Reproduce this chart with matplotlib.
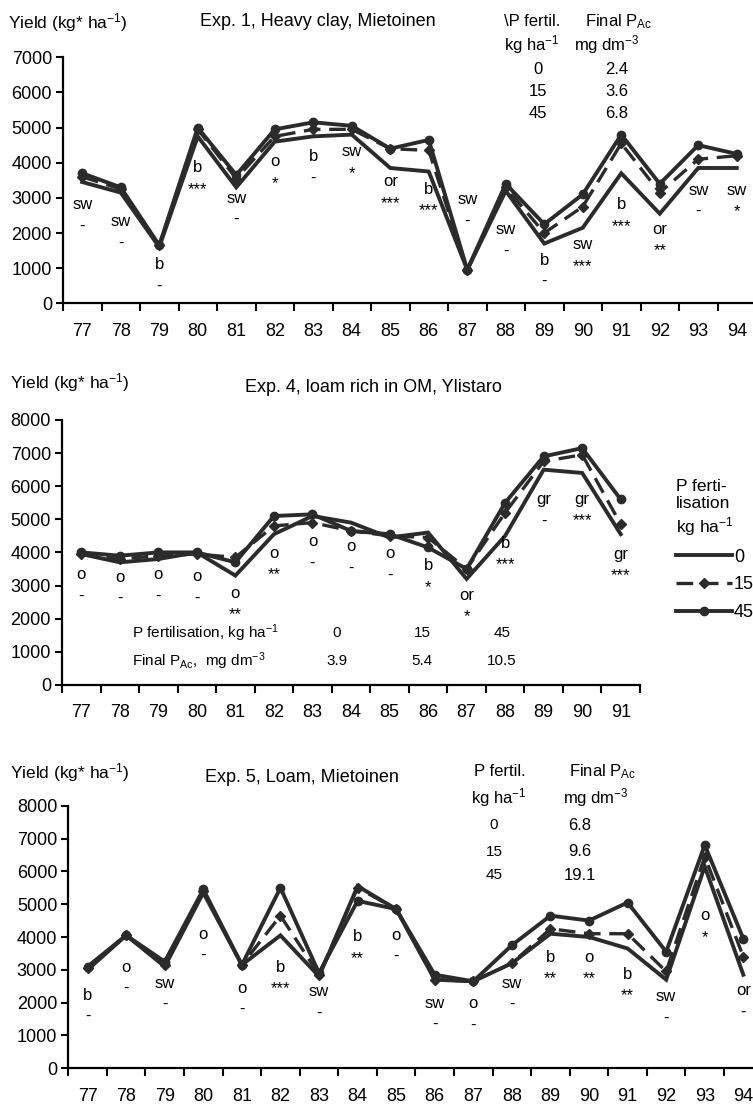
import matplotlib
matplotlib.use("Agg")
import matplotlib.pyplot as plt
import numpy as np

plt.rcParams['font.family'] = ['Liberation Sans', 'DejaVu Sans']
plt.rcParams['mathtext.fontset'] = 'custom'
plt.rcParams['mathtext.rm'] = 'Liberation Sans'
plt.rcParams['mathtext.it'] = 'Liberation Sans:italic'
plt.rcParams['mathtext.bf'] = 'Liberation Sans:bold'

W, H = 753, 1105

# ---- Exp. 1, Heavy clay, Mietoinen ----
years1 = ['77', '78', '79', '80', '81', '82', '83', '84', '85', '86',
          '87', '88', '89', '90', '91', '92', '93', '94']
exp1_p0 = [3450, 3150, 1600, 4750, 3300, 4600, 4750, 4800, 3850, 3750,
           950, 3200, 1700, 2150, 3700, 2550, 3850, 3850]
exp1_p15 = [3600, 3250, 1650, 4950, 3550, 4750, 4950, 4950, 4400, 4350,
            950, 3300, 2000, 2750, 4550, 3150, 4100, 4200]
exp1_p45 = [3700, 3300, 1650, 5000, 3650, 4950, 5150, 5050, 4400, 4650,
            950, 3400, 2250, 3100, 4800, 3400, 4500, 4250]
exp1_crop = ['sw', 'sw', 'b', 'b', 'sw', 'o', 'b', 'sw', 'or', 'b',
             'sw', 'sw', 'b', 'sw', 'b', 'or', 'sw', 'sw']
exp1_sig = ['-', '-', '-', '***', '-', '*', '-', '*', '***', '***',
            '-', '-', '-', '***', '***', '**', '-', '*']
exp1_lab_y = [2800, 2320, 1090, 3850, 2990, 4030, 4170, 4310, 3460, 3240,
              2940, 2090, 1230, 1660, 2800, 2100, 3220, 3220]

# ---- Exp. 4, loam rich in OM, Ylistaro ----
years4 = ['77', '78', '79', '80', '81', '82', '83', '84', '85', '86',
          '87', '88', '89', '90', '91']
exp4_p0 = [3950, 3700, 3800, 4000, 3300, 4550, 5100, 4900, 4450, 4600,
           3200, 4500, 6500, 6400, 4550]
exp4_p15 = [3950, 3800, 3900, 3950, 3850, 4800, 4900, 4650, 4500, 4450,
            3500, 5200, 6750, 6950, 4850]
exp4_p45 = [4000, 3900, 4000, 4000, 3700, 5100, 5150, 4650, 4550, 4150,
            3500, 5500, 6900, 7150, 5600]
exp4_crop = ['o', 'o', 'o', 'o', 'o', 'o', 'o', 'o', 'o', 'b',
             'or', 'b', 'gr', 'gr', 'gr']
exp4_sig = ['-', '-', '-', '-', '**', '**', '-', '-', '-', '*',
            '*', '***', '-', '***', '***']
exp4_lab_y = [3320, 3250, 3320, 3270, 2760, 3970, 4320, 4170, 3970, 3590,
              2710, 4270, 5600, 5600, 3950]

# ---- Exp. 5, Loam, Mietoinen ----
years5 = years1
exp5_p0 = [3000, 4050, 3100, 5350, 3150, 4050, 2800, 5550, 4850, 2700,
           2650, 3200, 4100, 4000, 3650, 2700, 6150, 2850]
exp5_p15 = [3050, 4050, 3150, 5400, 3150, 4650, 2850, 5500, 4850, 2700,
            2650, 3200, 4250, 4100, 4100, 2950, 6450, 3400]
exp5_p45 = [3100, 4050, 3250, 5450, 3150, 5500, 2900, 5100, 4850, 2850,
            2650, 3750, 4650, 4500, 5050, 3550, 6800, 3950]
exp5_crop = ['b', 'o', 'sw', 'o', 'o', 'b', 'sw', 'b', 'o', 'sw',
             'o', 'sw', 'b', 'o', 'b', 'sw', 'o', 'or']
exp5_sig = ['-', '-', '-', '-', '-', '***', '-', '**', '-', '-',
            '-', '-', '**', '**', '**', '-', '*', '-']
exp5_lab_y = [2230, 3080, 2590, 4090, 2440, 3080, 2330, 4010, 4060, 1980,
              1970, 2590, 3380, 3380, 2870, 2180, 4640, 2360]

LC = '#2b2b2b'
fig = plt.figure(figsize=(W / 100, H / 100), dpi=100)


def px_axes(left, top, right, bottom):
    return fig.add_axes([left / W, 1 - bottom / H, (right - left) / W, (bottom - top) / H])


def ftxt(x, y, s, size=12, ha='left'):
    fig.text(x / W, 1 - y / H, s, fontsize=size, ha=ha, va='center', color='black')


def draw_panel(ax, years, p0, p15, p45, crop, sig, lab_y, ymax):
    n = len(years)
    x = np.arange(n) + 0.5
    l0, = ax.plot(x, p0, color=LC, lw=2.8, solid_joinstyle='miter', clip_on=False)
    l15, = ax.plot(x, p15, color=LC, lw=2.4, dashes=(5, 2.6), marker='D',
                   ms=5, mfc=LC, mec=LC, clip_on=False)
    l45, = ax.plot(x, p45, color=LC, lw=2.8, marker='o', ms=6, mfc=LC, mec=LC,
                   clip_on=False)
    for xi, c, s, y in zip(x, crop, sig, lab_y):
        ax.text(xi, y, c, ha='center', va='center', fontsize=12)
        ax.annotate(s, (xi, y), xytext=(0, -15.5), textcoords='offset points',
                    ha='center', va='center', fontsize=12)
    ax.set_xlim(0, n)
    ax.set_ylim(0, ymax)
    for sp in ['top', 'right']:
        ax.spines[sp].set_visible(False)
    for sp in ['left', 'bottom']:
        ax.spines[sp].set_linewidth(1.6)
    ax.set_xticks(np.arange(n + 1))
    ax.set_xticklabels([])
    ax.set_xticks(x, minor=True)
    ax.set_xticklabels(years, minor=True)
    ax.tick_params(axis='x', which='major', length=6, width=1.5, direction='out')
    ax.tick_params(axis='x', which='minor', length=0, labelsize=13, pad=14)
    ax.set_yticks(np.arange(0, ymax + 1, 1000))
    ax.tick_params(axis='y', length=5, width=1.5, labelsize=13, pad=3)
    return l0, l15, l45


ylab = 'Yield (kg* ha$^{-1}$)'

# panel 1
ax1 = px_axes(63, 57.3, 756, 303.3)
draw_panel(ax1, years1, exp1_p0, exp1_p15, exp1_p45, exp1_crop, exp1_sig, exp1_lab_y, 7000)
ftxt(8, 23, ylab, 12.5)
ftxt(200, 22, 'Exp. 1, Heavy clay, Mietoinen', 13)
ftxt(532, 22, '\\P fertil.', 12, 'center')
ftxt(585, 22, 'Final P$_{\\mathrm{Ac}}$', 12)
ftxt(532, 45, 'kg ha$^{-1}$', 12, 'center')
ftxt(607, 45, 'mg dm$^{-3}$', 12, 'center')
for yy, a, b in zip([70, 92, 113], ['0', '15', '45'], ['2.4', '3.6', '6.8']):
    ftxt(538, yy, a, 12, 'center')
    ftxt(617, yy, b, 12, 'center')

# panel 2
ax2 = px_axes(62, 420, 640, 684.8)
l0, l15, l45 = draw_panel(ax2, years4, exp4_p0, exp4_p15, exp4_p45, exp4_crop, exp4_sig,
                          exp4_lab_y, 8000)
ftxt(10, 383, ylab, 12.5)
ftxt(245, 387, 'Exp. 4, loam rich in OM, Ylistaro', 13)
ftxt(132, 633, 'P fertilisation, kg ha$^{-1}$', 11)
ftxt(132, 661, 'Final P$_{\\mathrm{Ac}}$,  mg dm$^{-3}$', 11)
for xx, a, b in zip([337, 422, 502], ['0', '15', '45'], ['3.9', '5.4', '10.5']):
    ftxt(xx, 633, a, 11, 'center')
    ftxt(xx, 661, b, 11, 'center')
leg = fig.legend([l0, l15, l45], ['0', '15', '45'], loc='upper left',
                 bbox_to_anchor=(676 / W, 1 - 479 / H), frameon=False,
                 title='P ferti-\nlisation\nkg ha$^{-1}$', fontsize=13,
                 title_fontsize=12.5, handlelength=3.1, handletextpad=0.1,
                 labelspacing=0.6, borderpad=0, borderaxespad=0, alignment='left')

# panel 3
ax3 = px_axes(68.3, 805.7, 762.6, 1068.3)
draw_panel(ax3, years5, exp5_p0, exp5_p15, exp5_p45, exp5_crop, exp5_sig, exp5_lab_y, 8000)
ftxt(10, 773, ylab, 12.5)
ftxt(205, 777, 'Exp. 5, Loam, Mietoinen', 13)
ftxt(500, 772, 'P fertil.', 12, 'center')
ftxt(603, 772, 'Final P$_{\\mathrm{Ac}}$', 12, 'center')
ftxt(499, 798, 'kg ha$^{-1}$', 12, 'center')
ftxt(596, 798, 'mg dm$^{-3}$', 12, 'center')
for yy, a, b in zip([825, 852, 875], ['0', '15', '45'], ['6.8', '9.6', '19.1']):
    ftxt(494, yy, a, 11, 'center')
    ftxt(580, yy, b, 12, 'center')

fig.savefig('out.png', dpi=100)
